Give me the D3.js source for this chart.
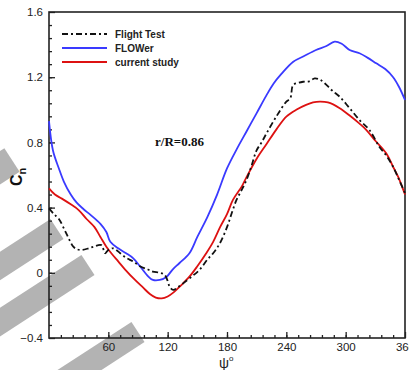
<!DOCTYPE html>
<html>
<head>
<meta charset="utf-8">
<script src="https://cdn.jsdelivr.net/npm/d3@7"></script>
<style>
  body { margin: 0; background: #fff; }
  svg { display: block; }
</style>
</head>
<body>
<div id="chart"></div>
<script>
// azimuth (deg) and normal force coefficient for each series
const psiFlight = [0, 5, 10, 16, 20, 24.6, 28, 33, 40, 45, 53, 56.6, 60, 65, 72, 78.5, 85, 92, 100, 105, 112, 117, 120, 122, 125.6, 130, 135.6, 145, 152.5, 160, 166, 172.7, 180, 185, 189.6, 195, 199.7, 205, 209.8, 215, 220, 230, 240, 244, 246.8, 252, 257, 263, 268.7, 274, 278.8, 286, 294, 304, 314, 324, 334, 341, 348, 354, 360];
const cnFlight = [0.395, 0.36, 0.33, 0.26, 0.21, 0.16, 0.145, 0.14, 0.15, 0.16, 0.17, 0.12, 0.14, 0.15, 0.12, 0.09, 0.07, 0.04, 0.02, 0.007, 0.0, -0.013, -0.05, -0.085, -0.105, -0.09, -0.065, -0.02, 0.02, 0.08, 0.12, 0.18, 0.28, 0.37, 0.447, 0.51, 0.57, 0.66, 0.75, 0.80, 0.856, 0.96, 1.05, 1.07, 1.152, 1.165, 1.172, 1.175, 1.193, 1.185, 1.163, 1.12, 1.08, 1.01, 0.937, 0.876, 0.774, 0.72, 0.65, 0.57, 0.49];

const psiFlower = [0, 4, 10, 15, 22, 28, 35, 42, 52, 58, 62, 70, 78, 85, 92, 100, 105, 112, 119, 125, 132, 142, 150, 160, 170, 180, 190, 200, 210, 220, 227, 235, 247, 258, 270, 280, 289, 296, 304, 314, 322, 331, 340, 348, 354, 360];
const cnFlower = [0.93, 0.75, 0.64, 0.56, 0.48, 0.43, 0.39, 0.355, 0.30, 0.25, 0.19, 0.15, 0.12, 0.09, 0.04, -0.02, -0.044, -0.044, -0.024, 0.02, 0.06, 0.12, 0.22, 0.34, 0.48, 0.64, 0.76, 0.87, 0.98, 1.09, 1.16, 1.22, 1.295, 1.33, 1.367, 1.39, 1.418, 1.405, 1.367, 1.347, 1.32, 1.285, 1.25, 1.20, 1.14, 1.06];

const psiCurrent = [0, 6, 13, 22, 30, 38, 46, 52, 58, 63, 70, 77, 87, 95, 102, 108, 114, 120, 126, 133, 142, 150, 159, 166, 173, 180, 186, 195, 200, 210, 220, 230, 240, 250, 260, 267, 274, 282, 294, 305, 314, 321, 330, 341, 348, 353, 360];
const cnCurrent = [0.518, 0.48, 0.455, 0.42, 0.385, 0.33, 0.28, 0.22, 0.16, 0.12, 0.07, 0.02, -0.044, -0.09, -0.13, -0.152, -0.157, -0.145, -0.12, -0.08, -0.024, 0.04, 0.12, 0.19, 0.28, 0.36, 0.447, 0.53, 0.59, 0.70, 0.79, 0.88, 0.958, 1.0, 1.03, 1.045, 1.05, 1.045, 1.01, 0.96, 0.915, 0.876, 0.81, 0.733, 0.65, 0.59, 0.48];

const seriesNames = ["Flight Test", "FLOWer", "current study"];
const xTicks = [60, 120, 180, 240, 300, 360];
const yTicks = [-0.4, 0, 0.4, 0.8, 1.2, 1.6];

const width = 409, height = 370;
const margin = {top: 12, right: 4, bottom: 32, left: 49};

const svg = d3.select("#chart")
    .append("svg")
    .attr("width", width)
    .attr("height", height);

// grey diagonal bands sitting behind the chart: end point, length, half width
const bands = [[12, 160, 60, 14], [57, 229, 120, 12], [88, 265, 160, 12], [138, 332, 160, 12]];
const ang = 33 * Math.PI / 180;
const ux = Math.cos(ang), uy = -Math.sin(ang), nx = Math.sin(ang), ny = Math.cos(ang);
svg.append("g")
    .selectAll("polygon")
    .data(bands)
    .join("polygon")
    .attr("points", ([ex, ey, len, half]) => {
        const bx = ex - ux * len, by = ey - uy * len;
        return [[ex - nx * half, ey - ny * half], [ex + nx * half, ey + ny * half],
                [bx + nx * half, by + ny * half], [bx - nx * half, by - ny * half]].join(" ");
    })
    .attr("fill", "#b3b3b3");

const x = d3.scaleLinear()
    .domain([0, 360])
    .range([margin.left, width - margin.right]);

const y = d3.scaleLinear()
    .domain([-0.4, 1.6])
    .range([height - margin.bottom, margin.top]);

const font = "'Liberation Sans', Arial, sans-serif";

// minor ticks first, then major ticks with labels
svg.append("g")
    .attr("transform", `translate(0,${y(-0.4)})`)
    .call(d3.axisBottom(x).tickValues(d3.range(12, 360, 12)).tickSize(-3).tickFormat(""))
    .call(g => g.select(".domain").remove());

svg.append("g")
    .attr("transform", `translate(${x(0)},0)`)
    .call(d3.axisLeft(y).tickValues(d3.range(-0.32, 1.6, 0.08)).tickSize(-3).tickFormat(""))
    .call(g => g.select(".domain").remove());

svg.append("g")
    .attr("transform", `translate(0,${y(-0.4)})`)
    .call(d3.axisBottom(x).tickValues(xTicks).tickSize(-6).tickPadding(5).tickFormat(d3.format("d")))
    .call(g => g.select(".domain").remove())
    .selectAll("text")
    .attr("font-family", font)
    .attr("font-size", "11.5px")
    .attr("fill", "#222");

svg.append("g")
    .attr("transform", `translate(${x(0)},0)`)
    .call(d3.axisLeft(y).tickValues(yTicks).tickSize(-6).tickPadding(6).tickFormat(d => d === 0 ? "0" : d3.format(".1f")(d)))
    .call(g => g.select(".domain").remove())
    .selectAll("text")
    .attr("font-family", font)
    .attr("font-size", "11.5px")
    .attr("fill", "#222");

svg.selectAll(".tick line").attr("stroke", "#222").attr("stroke-width", 1.3);

// frame
svg.append("rect")
    .attr("x", x(0))
    .attr("y", y(1.6))
    .attr("width", x(360) - x(0))
    .attr("height", y(-0.4) - y(1.6))
    .attr("fill", "none")
    .attr("stroke", "#222")
    .attr("stroke-width", 1.6);

const line = d3.line()
    .x(d => x(d[0]))
    .y(d => y(d[1]))
    .curve(d3.curveCatmullRom);

const series = [
    {name: seriesNames[0], psi: psiFlight, cn: cnFlight, color: "#111", dash: "6,3,2,3"},
    {name: seriesNames[1], psi: psiFlower, cn: cnFlower, color: "#3a3aff", dash: null},
    {name: seriesNames[2], psi: psiCurrent, cn: cnCurrent, color: "#dd1111", dash: null}
];

const plot = svg.append("g");
[series[1], series[2], series[0]].forEach(s => {
    plot.append("path")
        .datum(d3.zip(s.psi, s.cn))
        .attr("d", line)
        .attr("fill", "none")
        .attr("stroke", s.color)
        .attr("stroke-width", 1.8)
        .attr("stroke-dasharray", s.dash);
});

// legend
const legend = svg.append("g");
series.forEach((s, i) => {
    const ly = 34 + i * 14;
    legend.append("line")
        .attr("x1", 62).attr("x2", 107)
        .attr("y1", ly).attr("y2", ly)
        .attr("stroke", s.color)
        .attr("stroke-width", 1.8)
        .attr("stroke-dasharray", s.dash);
    legend.append("text")
        .attr("x", 115)
        .attr("y", ly + 3.5)
        .attr("font-family", font)
        .attr("font-size", "10px")
        .attr("font-weight", "bold")
        .attr("fill", "#222")
        .text(s.name);
});

svg.append("text")
    .attr("x", 155)
    .attr("y", 146)
    .attr("font-family", "'Liberation Serif', 'Times New Roman', serif")
    .attr("font-size", "13px")
    .attr("font-weight", "bold")
    .attr("fill", "#111")
    .text("r/R=0.86");

// axis titles
const yTitle = svg.append("text")
    .attr("transform", "translate(22,186) rotate(-90)")
    .attr("font-family", font)
    .attr("font-weight", "bold")
    .attr("fill", "#111");
yTitle.append("tspan").attr("font-size", "16px").text("C");
yTitle.append("tspan").attr("font-size", "11px").attr("dy", 4).text("n");

const xTitle = svg.append("text")
    .attr("x", 219)
    .attr("y", 368)
    .attr("font-family", font)
    .attr("fill", "#222");
xTitle.append("tspan").attr("font-size", "14px").text("ψ");
xTitle.append("tspan").attr("font-size", "8px").attr("dy", -7).text("o");
</script>
</body>
</html>
